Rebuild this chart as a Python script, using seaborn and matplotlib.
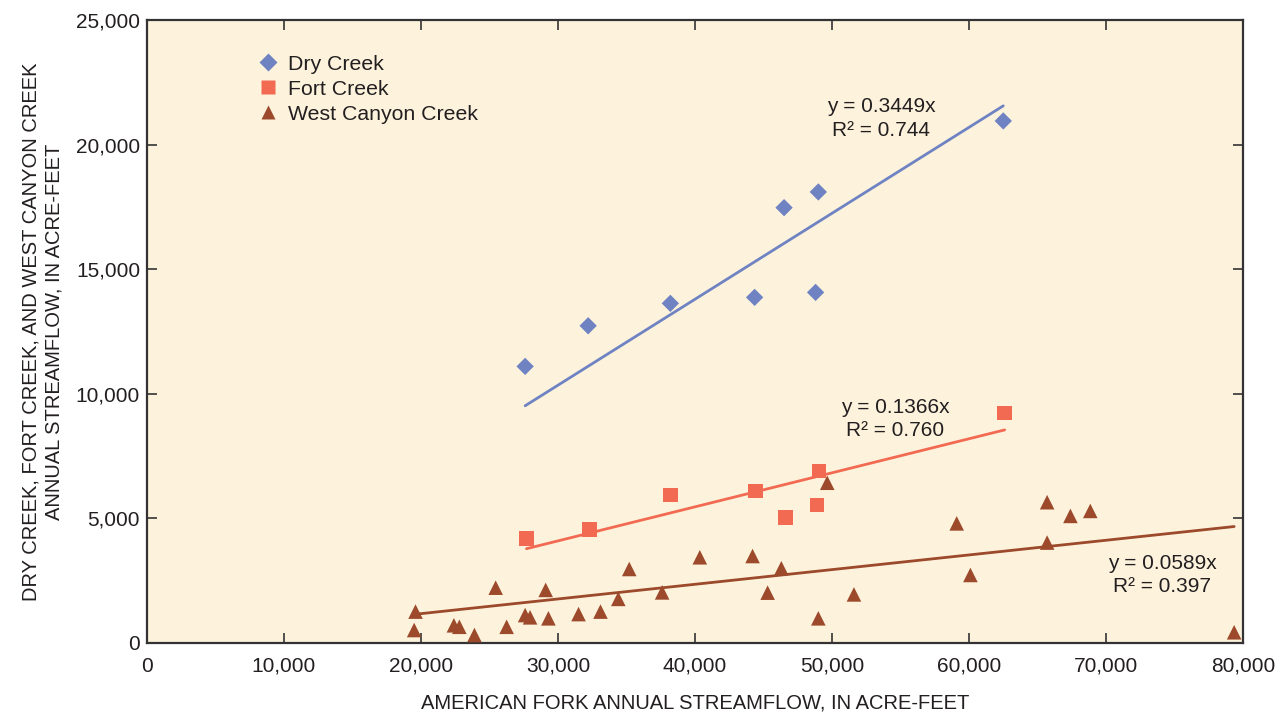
import numpy as np
import pandas as pd
import matplotlib
matplotlib.use("Agg")
import matplotlib.pyplot as plt
from matplotlib import font_manager
from matplotlib.lines import Line2D
from matplotlib.ticker import FuncFormatter, MultipleLocator
import seaborn as sns

# American Fork annual streamflow (x) vs. tributary annual streamflow (y), acre-feet
dry_x = [27600, 32200, 38200, 44350, 46500, 49000, 48800, 62500]
dry_y = [11100, 12730, 13630, 13870, 17470, 18100, 14070, 20950]

fort_x = [27700, 32300, 38200, 44400, 46600, 48900, 49050, 62600]
fort_y = [4200, 4560, 5930, 6100, 5040, 5540, 6910, 9220]

west_x = [19600, 19500, 22400, 22800, 23900, 25450, 26250, 27600, 27960, 29100,
          29300, 31500, 33100, 34400, 35200, 37600, 40350, 44200, 45300, 46300,
          49000, 49650, 51600, 59100, 60100, 65700, 65700, 67400, 68850, 79350]
west_y = [1260, 520, 710, 650, 320, 2220, 650, 1120, 1030, 2130,
          990, 1160, 1260, 1770, 2970, 2030, 3440, 3490, 2020, 3000,
          990, 6430, 1950, 4800, 2730, 5650, 4030, 5100, 5300, 430]

series_names = ["Dry Creek", "Fort Creek", "West Canyon Creek"]
slopes = [0.3449, 0.1366, 0.0589]
r_squared = [0.744, 0.760, 0.397]

colors = {"Dry Creek": "#6F83C3", "Fort Creek": "#F26A52", "West Canyon Creek": "#9C4A2B"}
markers = {"Dry Creek": "D", "Fort Creek": "s", "West Canyon Creek": "^"}
sizes = {"Dry Creek": 78, "Fort Creek": 108, "West Canyon Creek": 110}

points = pd.concat([
    pd.DataFrame({"x": dry_x, "y": dry_y, "site": "Dry Creek"}),
    pd.DataFrame({"x": fort_x, "y": fort_y, "site": "Fort Creek"}),
    pd.DataFrame({"x": west_x, "y": west_y, "site": "West Canyon Creek"}),
], ignore_index=True)

sns.set_theme(style="white")
text_color = "#231F20"
plt.rcParams["font.family"] = ["Liberation Sans", "DejaVu Sans"]

# Axis titles use a condensed bold face when one is available
try:
    font_manager.findfont(font_manager.FontProperties(family="Liberation Sans Narrow"),
                          fallback_to_default=False)
    title_font = dict(family=["Liberation Sans Narrow", "Liberation Sans"],
                      fontweight="bold", fontsize=16.5)
except ValueError:
    title_font = dict(family=["Liberation Sans", "DejaVu Sans"],
                      fontweight="normal", fontsize=14.5)

fig = plt.figure(figsize=(12.86, 7.15), dpi=100)
ax = fig.add_axes([0.1143, 0.1007, 0.8523, 0.8713])
ax.set_facecolor("#FDF3DD")

# Fitted lines through the origin, spanning each site's range of x
for name, xs, slope in zip(series_names, [dry_x, fort_x, west_x], slopes):
    xr = np.array([min(xs), max(xs)])
    fit = pd.DataFrame({"x": xr, "y": slope * xr})
    sns.lineplot(data=fit, x="x", y="y", ax=ax, color=colors[name], lw=2.0,
                 zorder=2, legend=False)

for name in series_names:
    sub = points[points["site"] == name]
    sns.scatterplot(data=sub, x="x", y="y", ax=ax, marker=markers[name],
                    s=sizes[name], color=colors[name], edgecolor="none",
                    linewidth=0, zorder=3, legend=False)

ax.set_xlim(0, 80000)
ax.set_ylim(0, 25000)
ax.xaxis.set_major_locator(MultipleLocator(10000))
ax.yaxis.set_major_locator(MultipleLocator(5000))
fmt = FuncFormatter(lambda v, p: f"{int(v):,}")
ax.xaxis.set_major_formatter(fmt)
ax.yaxis.set_major_formatter(fmt)

for side in ax.spines.values():
    side.set_color("#333333")
    side.set_linewidth(1.6)
ax.tick_params(axis="both", which="major", direction="in", length=7, width=1.2,
               color="#333333", top=True, right=True, bottom=True, left=True,
               labelsize=15, labelcolor=text_color)
ax.tick_params(axis="x", pad=10)
ax.tick_params(axis="y", pad=5)

ax.set_xlabel("AMERICAN FORK ANNUAL STREAMFLOW, IN ACRE-FEET", color=text_color,
              labelpad=13, **title_font)
ax.set_ylabel("DRY CREEK, FORT CREEK, AND WEST CANYON CREEK\nANNUAL STREAMFLOW, IN ACRE-FEET",
              color=text_color, labelpad=9, linespacing=1.25, **title_font)

# Regression labels
label_pos = [(53600, 21050), (54600, 8990), (74100, 2730)]
for (lx, ly), slope, r2 in zip(label_pos, slopes, r_squared):
    ax.text(lx, ly, f"y = {slope:.4f}x\nR\u00b2 = {r2:.3f}", ha="center", va="center",
            fontsize=15, color=text_color, linespacing=1.3, zorder=4)

handles = [Line2D([], [], linestyle="none", marker=markers[n], color=colors[n],
                  markeredgecolor="none",
                  markersize={"Dry Creek": 9, "Fort Creek": 10, "West Canyon Creek": 10.5}[n])
           for n in series_names]
leg = ax.legend(handles, series_names, loc="upper left", bbox_to_anchor=(0.081, 0.975),
                frameon=False, fontsize=15.3, handletextpad=0.35, labelspacing=0.28,
                handlelength=1.2)
for t in leg.get_texts():
    t.set_color(text_color)

fig.savefig("out.png", dpi=100)
